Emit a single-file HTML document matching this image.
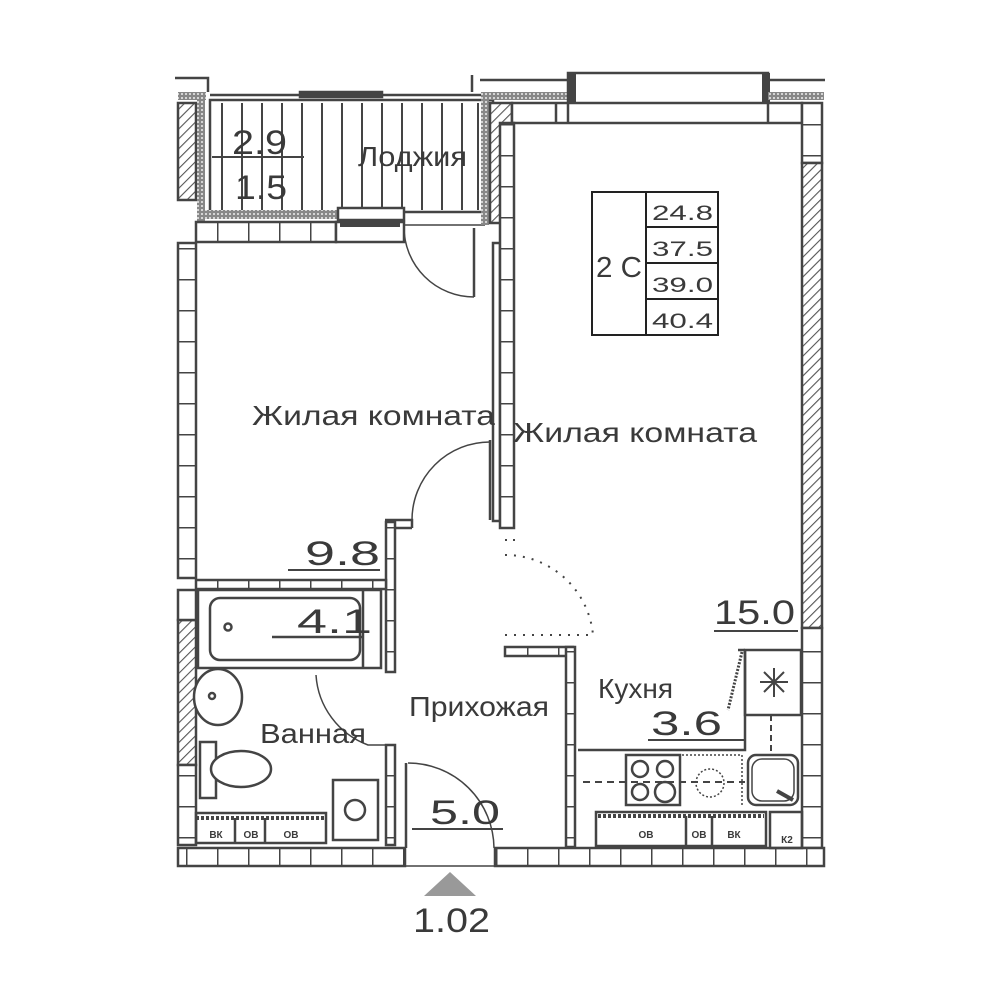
<!DOCTYPE html>
<html><head><meta charset="utf-8"><style>
html,body{margin:0;padding:0;background:#fff}
svg{display:block}
text{font-family:"Liberation Sans","DejaVu Sans",sans-serif;fill:#3a3a3a}
</style></head><body>
<svg width="1000" height="1000" viewBox="0 0 1000 1000" xmlns="http://www.w3.org/2000/svg">
<defs>
<pattern id="hatch" width="7" height="7" patternUnits="userSpaceOnUse" patternTransform="rotate(45)">
<rect width="7" height="7" fill="#fff"/><line x1="0" y1="0" x2="0" y2="7" stroke="#555" stroke-width="2.2"/></pattern>
<pattern id="vt" width="20" height="31" patternUnits="userSpaceOnUse"><rect width="20" height="31" fill="#fff"/><line x1="0" y1="0.5" x2="20" y2="0.5" stroke="#444" stroke-width="2"/></pattern>
<pattern id="ht" width="31" height="20" patternUnits="userSpaceOnUse"><rect width="31" height="20" fill="#fff"/><line x1="0.5" y1="0" x2="0.5" y2="20" stroke="#444" stroke-width="2"/></pattern>
<pattern id="dots" width="4" height="4" patternUnits="userSpaceOnUse"><rect width="4" height="4" fill="#888"/><circle cx="2" cy="2" r="1" fill="#eee"/></pattern>
</defs>
<g stroke="#444" stroke-width="2.5" fill="none">
<rect x="178" y="243" width="18" height="335" fill="url(#vt)"/>
<rect x="178" y="620" width="18" height="145" fill="url(#hatch)"/>
<rect x="178" y="765" width="18" height="80" fill="url(#vt)"/>
<rect x="178" y="590" width="18" height="30" fill="#fff"/>
<rect x="178" y="103" width="18" height="97" fill="url(#hatch)"/>
<rect x="197" y="92" width="8" height="130" fill="url(#dots)" stroke="none"/>
<rect x="178" y="92" width="28" height="8" fill="url(#dots)" stroke="none"/>
<path d="M175 78 H208 V92"/>
<rect x="210" y="100" width="283" height="112" fill="#fff"/>
<g stroke-width="2">
<line x1="222" y1="103" x2="222" y2="210"/><line x1="242" y1="103" x2="242" y2="210"/><line x1="262" y1="103" x2="262" y2="210"/><line x1="282" y1="103" x2="282" y2="210"/><line x1="302" y1="103" x2="302" y2="210"/><line x1="322" y1="103" x2="322" y2="210"/><line x1="342" y1="103" x2="342" y2="210"/><line x1="362" y1="103" x2="362" y2="210"/><line x1="382" y1="103" x2="382" y2="210"/><line x1="402" y1="103" x2="402" y2="210"/><line x1="422" y1="103" x2="422" y2="210"/><line x1="442" y1="103" x2="442" y2="210"/><line x1="462" y1="103" x2="462" y2="210"/><line x1="478" y1="103" x2="478" y2="210"/>
<line x1="212" y1="157" x2="304" y2="157"/>
</g>
<line x1="210" y1="95" x2="490" y2="95"/>
<rect x="300" y="92" width="82" height="5" fill="#444"/>
<rect x="198" y="210" width="140" height="9" fill="url(#dots)" stroke="none"/>
<rect x="338" y="208" width="66" height="12" fill="#fff"/>
<rect x="196" y="222" width="140" height="20" fill="url(#ht)"/>
<rect x="336" y="222" width="68" height="20" fill="#fff"/>
<rect x="340" y="222" width="60" height="5" fill="#444" stroke="none"/>
<line x1="404" y1="225" x2="485" y2="225" stroke-width="1.5"/>
<path d="M404 227 A70 70 0 0 0 474 297" stroke-width="1.5"/>
<line x1="474" y1="228" x2="474" y2="297"/>
<rect x="481" y="100" width="8" height="125" fill="url(#dots)" stroke="none"/>
<rect x="481" y="92" width="90" height="8" fill="url(#dots)" stroke="none"/>
<rect x="490" y="103" width="22" height="120" fill="url(#hatch)"/>
<path d="M472 75 V92"/>
<line x1="480" y1="80" x2="570" y2="80"/>
<rect x="568" y="73" width="200" height="34" fill="#fff"/>
<rect x="568" y="73" width="8" height="34" fill="#444" stroke="none"/>
<rect x="762" y="73" width="8" height="34" fill="#444" stroke="none"/>
<rect x="570" y="103" width="200" height="5" fill="#444" stroke="none"/>
<rect x="768" y="92" width="56" height="8" fill="url(#dots)" stroke="none"/>
<line x1="768" y1="80" x2="825" y2="80"/>
<rect x="512" y="103" width="290" height="20" fill="#fff"/>
<line x1="556" y1="103" x2="556" y2="123"/><line x1="568" y1="103" x2="568" y2="123"/><line x1="768" y1="103" x2="768" y2="123"/>
<rect x="802" y="103" width="20" height="60" fill="url(#vt)"/>
<rect x="802" y="163" width="20" height="465" fill="url(#hatch)"/>
<rect x="802" y="628" width="20" height="220" fill="url(#vt)"/>
<rect x="493" y="243" width="7" height="278" fill="#fff"/>
<rect x="500" y="123" width="14" height="405" fill="url(#vt)"/>
<line x1="490" y1="440" x2="490" y2="520"/>
<path d="M385 528 H412 M385 520 H412 V528"/>
<rect x="386" y="522" width="9" height="150" fill="url(#vt)"/>
<rect x="386" y="745" width="9" height="100" fill="url(#vt)"/>
<path d="M412 520 A78 78 0 0 1 490 442" stroke-width="1.5"/>
<path d="M505 555 A88 88 0 0 1 593 635" stroke-width="2" stroke-dasharray="2 7"/>
<line x1="505" y1="635" x2="593" y2="635" stroke-width="2" stroke-dasharray="2 7"/>
<line x1="505" y1="540" x2="515" y2="540" stroke-width="2" stroke-dasharray="2 6"/>
<rect x="196" y="580" width="190" height="9" fill="url(#ht)"/>
<rect x="198" y="590" width="183" height="78" fill="#fff"/>
<rect x="210" y="598" width="150" height="62" rx="10" fill="#fff"/>
<circle cx="228" cy="627" r="3.5"/>
<line x1="363" y1="590" x2="363" y2="668"/>
<line x1="272" y1="637" x2="363" y2="637"/>
<ellipse cx="218" cy="697" rx="24" ry="28" fill="#fff"/>
<circle cx="212" cy="696" r="3"/>
<rect x="200" y="742" width="16" height="56"/>
<ellipse cx="241" cy="769" rx="30" ry="18" fill="#fff"/>
<path d="M316 675 A80 80 0 0 0 368 745 H395" stroke-width="1.5"/>
<rect x="333" y="780" width="45" height="60"/>
<circle cx="355" cy="810" r="10"/>
<rect x="196" y="813" width="130" height="30"/>
<line x1="196" y1="818" x2="326" y2="818" stroke-dasharray="3 2" stroke-width="4"/>
<line x1="235" y1="818" x2="235" y2="843"/><line x1="265" y1="818" x2="265" y2="843"/>
<line x1="406" y1="763" x2="406" y2="848"/>
<path d="M408 763 A86 86 0 0 1 494 848" stroke-width="1.5"/>
<rect x="178" y="848" width="227" height="18" fill="url(#ht)"/>
<rect x="495" y="848" width="329" height="18" fill="url(#ht)"/>
<line x1="405" y1="866" x2="495" y2="866" stroke-width="1.5"/>
<rect x="505" y="647" width="68" height="9" fill="url(#ht)"/>
<rect x="566" y="647" width="9" height="200" fill="url(#vt)"/>
<path d="M745 650 V750 H578"/>
<rect x="745" y="650" width="56" height="65"/>
<path d="M760 682 H788 M774 668 V697 M764 672 L784 692 M784 672 L764 692" stroke-width="2"/>
<path d="M742 652 L728 710" stroke-width="3" stroke-dasharray="2 1.5"/>
<line x1="738" y1="650" x2="745" y2="650"/>
<rect x="626" y="755" width="54" height="50"/>
<circle cx="640" cy="769" r="8"/><circle cx="665" cy="769" r="8"/><circle cx="640" cy="792" r="8"/><circle cx="665" cy="792" r="10"/>
<circle cx="710" cy="783" r="14" stroke-width="1.5" stroke-dasharray="2 2"/>
<path d="M682 755 H742 V805" stroke-width="1.5" stroke-dasharray="2 2"/>
<line x1="583" y1="782" x2="745" y2="782" stroke-dasharray="7 5" stroke-width="2"/>
<line x1="771" y1="715" x2="771" y2="755" stroke-dasharray="6 4" stroke-width="2"/>
<rect x="748" y="755" width="50" height="50" rx="8"/>
<rect x="752" y="759" width="42" height="42" rx="10" stroke-width="1.5"/>
<line x1="777" y1="791" x2="793" y2="800" stroke-width="4"/>
<rect x="596" y="812" width="170" height="34"/>
<line x1="598" y1="816" x2="764" y2="816" stroke-dasharray="3 2" stroke-width="4"/>
<line x1="686" y1="816" x2="686" y2="846"/><line x1="712" y1="816" x2="712" y2="846"/>
<rect x="770" y="812" width="32" height="36"/>
</g>
<polygon points="424,896 450,872 476,896" fill="#999"/>
<g stroke="#444" stroke-width="2">
<line x1="288" y1="570" x2="380" y2="570"/>
<line x1="714" y1="631" x2="798" y2="631"/>
<line x1="648" y1="740" x2="745" y2="740"/>
<line x1="412" y1="829" x2="503" y2="829"/>
</g>
<g stroke="#222" stroke-width="2" fill="none">
<rect x="592" y="192" width="126" height="143"/>
<line x1="646" y1="192" x2="646" y2="335"/>
<line x1="646" y1="227" x2="718" y2="227"/>
<line x1="646" y1="263" x2="718" y2="263"/>
<line x1="646" y1="299" x2="718" y2="299"/>
</g>
<g font-size="21">
<text x="652" y="220" textLength="61" lengthAdjust="spacingAndGlyphs">24.8</text>
<text x="652" y="256" textLength="61" lengthAdjust="spacingAndGlyphs">37.5</text>
<text x="652" y="292" textLength="61" lengthAdjust="spacingAndGlyphs">39.0</text>
<text x="652" y="328" textLength="61" lengthAdjust="spacingAndGlyphs">40.4</text>
</g>
<text x="596" y="277" font-size="29" textLength="46" lengthAdjust="spacingAndGlyphs">2 C</text>
<g font-size="28">
<text x="252" y="425" textLength="243" lengthAdjust="spacingAndGlyphs">Жилая  комната</text>
<text x="513" y="442" textLength="244" lengthAdjust="spacingAndGlyphs">Жилая  комната</text>
<text x="358" y="166" textLength="109" lengthAdjust="spacingAndGlyphs">Лоджия</text>
<text x="409" y="716" textLength="140" lengthAdjust="spacingAndGlyphs">Прихожая</text>
<text x="598" y="698" textLength="75" lengthAdjust="spacingAndGlyphs">Кухня</text>
<text x="260" y="743" textLength="106" lengthAdjust="spacingAndGlyphs">Ванная</text>
</g>
<g font-size="34">
<text x="232" y="154" textLength="55" lengthAdjust="spacingAndGlyphs">2.9</text>
<text x="235" y="199" textLength="52" lengthAdjust="spacingAndGlyphs">1.5</text>
<text x="305" y="565" textLength="75" lengthAdjust="spacingAndGlyphs">9.8</text>
<text x="297" y="633" textLength="75" lengthAdjust="spacingAndGlyphs">4.1</text>
<text x="714" y="624" textLength="81" lengthAdjust="spacingAndGlyphs">15.0</text>
<text x="651" y="735" textLength="71" lengthAdjust="spacingAndGlyphs">3.6</text>
<text x="430" y="824" textLength="70" lengthAdjust="spacingAndGlyphs">5.0</text>
<text x="413" y="932" textLength="77" lengthAdjust="spacingAndGlyphs">1.02</text>
</g>
<g font-size="10" font-weight="bold" text-anchor="middle">
<text x="216" y="838">ВК</text><text x="251" y="838">ОВ</text><text x="291" y="838">ОВ</text>
<text x="646" y="838">ОВ</text><text x="699" y="838">ОВ</text><text x="734" y="838">ВК</text><text x="787" y="843">К2</text>
</g>
</svg>
</body></html>
